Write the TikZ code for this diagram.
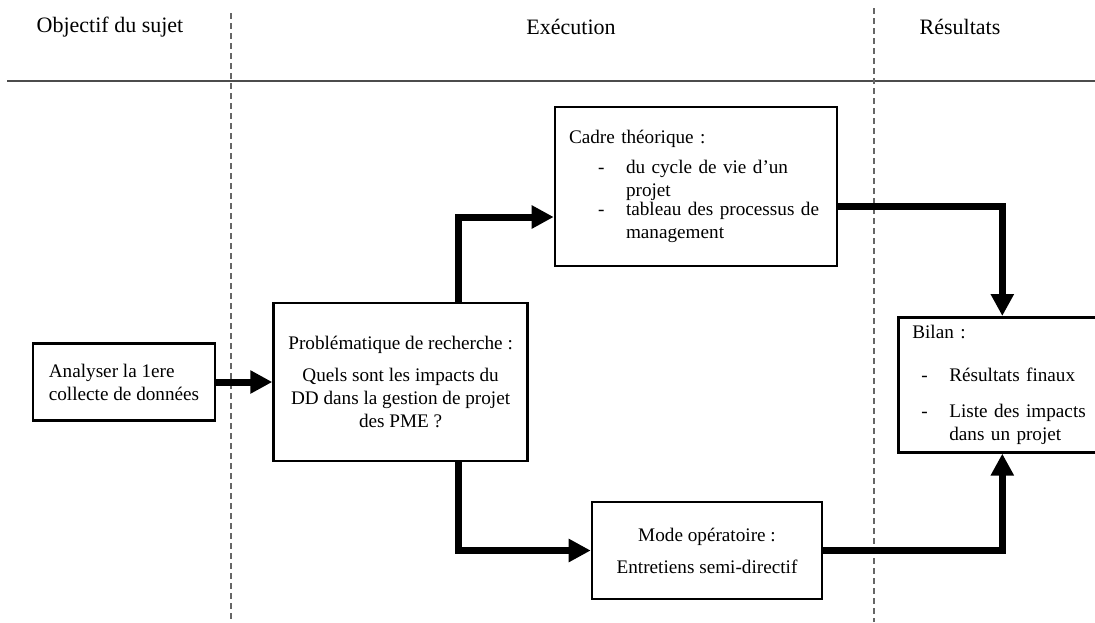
\documentclass[tikz,border=0pt]{standalone}
\usepackage{fontspec}
\setmainfont{Liberation Serif}
\usetikzlibrary{arrows.meta, positioning}
\newcommand{\tiret}[3]{\hspace*{#1}\makebox[#2][l]{-}\parbox[t]{\dimexpr\hsize-#1-#2\relax}{\raggedright #3}}

\begin{document}
\begin{tikzpicture}[
    x=0.5pt, y=-0.5pt,
    box/.style={rectangle, draw=black, line width=1.3pt, inner xsep=7pt, font=\fontsize{9.6}{11.5}\selectfont},
    head/.style={font=\fontsize{11}{13}\selectfont},
    lane/.style={densely dashed, black!60, line width=0.6pt},
    arrow/.style={-{Triangle[length=11pt, width=11pt]}, line width=3.5pt}
]
\useasboundingbox (0,0) rectangle (1095,622);

% colonnes
\node[head] (obj) at (110,27) {Objectif du sujet};
\node[head] (exe) at (571,27) {Exécution};
\node[head] (res) at (960,27) {Résultats};
\draw[black!70, line width=0.8pt] (7,81) -- (1095,81);
\draw[lane] (231,13) -- (231,622);
\draw[lane] (874,8) -- (874,622);

% boites
\node[box, align=left, minimum width=91pt, minimum height=38.5pt] (ana) at (124,382) {Analyser la 1ere\\collecte de données};
\node[box, align=center, minimum width=127pt, minimum height=79pt, right=28pt of ana] (prob) {Problématique de recherche :\\[4.5pt]Quels sont les impacts du\\DD dans la gestion de projet\\des PME ?};
\node[box, text width=127pt, align=left, minimum height=79.5pt] (cadre) at (696,186.5) {Cadre théorique :\\[3.5pt]
    \tiret{14.5pt}{14pt}{du cycle de vie d’un\\projet}\\
    \tiret{14.5pt}{14pt}{tableau des processus de\\management}};
\node[box, align=center, minimum width=115pt, minimum height=48.5pt] (mode) at (707,550.5) {Mode opératoire :\\[4.5pt]Entretiens semi-directif};
\node[box, text width=90pt, align=left, minimum height=67.5pt, anchor=north west] (bilan) at (897,316) {Bilan :\\[10pt]
    \tiret{4.5pt}{14pt}{Résultats finaux}\\[6.5pt]
    \tiret{4.5pt}{14pt}{Liste des impacts\\dans un projet}};

\draw[arrow] (ana) -- (prob);
\draw[arrow] ([xshift=29pt]prob.north) |- ([yshift=-15.25pt]cadre.west);
\draw[arrow] ([xshift=29pt]prob.south) |- (mode.west);
\draw[arrow] ([yshift=-10pt]cadre.east) -| (bilan.north);
\draw[arrow] (mode.east) -| (bilan.south);
\end{tikzpicture}
\end{document}
